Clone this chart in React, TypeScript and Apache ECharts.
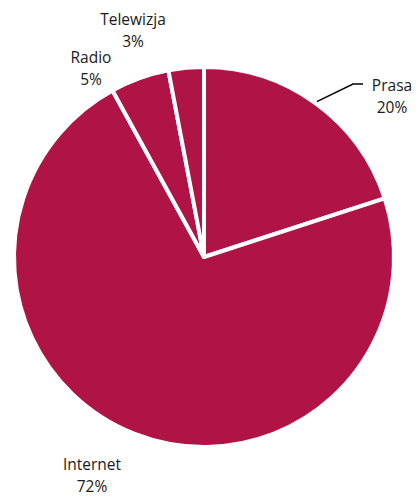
import React, { useEffect, useRef } from "react";
import * as echarts from "echarts";

const categories = ["Prasa", "Internet", "Radio", "Telewizja"];
const values = [20, 72, 5, 3];

const labelPos: Record<string, [number, number]> = {
  Prasa: [392, 96],
  Internet: [92, 475],
  Radio: [91, 68],
  Telewizja: [133, 30],
};

const CENTER: [number, number] = [204, 257];
const RADIUS = 190;

export default function App() {
  const ref = useRef<HTMLDivElement>(null);
  useEffect(() => {
    if (!ref.current) return;
    const chart = echarts.init(ref.current, undefined, { renderer: "svg" });
    const total = values.reduce((a, b) => a + b, 0);
    const midFrac = (values[0] / 2) / total;
    const ang = midFrac * 2 * Math.PI; // clockwise from top
    const sx = CENTER[0] + (RADIUS + 2) * Math.sin(ang);
    const sy = CENTER[1] - (RADIUS + 2) * Math.cos(ang);
    chart.setOption({
      animation: false,
      backgroundColor: "#ffffff",
      graphic: [
        {
          type: "polyline",
          shape: { points: [[sx, sy], [353, 84], [363, 84]] },
          style: { stroke: "#000000", lineWidth: 1.5, fill: "none" },
          silent: true,
        },
      ],
      series: [
        {
          type: "pie",
          center: CENTER,
          radius: [0, RADIUS],
          startAngle: 90,
          clockwise: true,
          itemStyle: { color: "#B01346", borderColor: "#ffffff", borderWidth: 4 },
          label: {
            show: true,
            formatter: "{b}\n{d}%",
            fontFamily: "Open Sans",
            fontSize: 15.5,
            lineHeight: 22,
            color: "#1a1a1a",
            align: "center",
            overflow: "none",
          },
          labelLine: { show: false },
          labelLayout: (params: any) => {
            const name = categories[params.dataIndex];
            const p = labelPos[name];
            return { x: p[0], y: p[1], align: "center", verticalAlign: "middle" };
          },
          emphasis: { disabled: true },
          data: categories.map((c, i) => ({ name: c, value: values[i] })),
        },
      ],
    });
    return () => chart.dispose();
  }, []);
  return (
    <div
      ref={ref}
      style={{ position: "fixed", left: 0, top: 0, width: 419, height: 497 }}
    />
  );
}
